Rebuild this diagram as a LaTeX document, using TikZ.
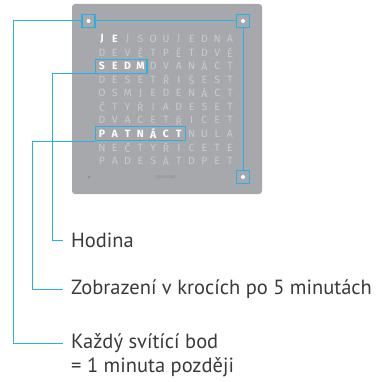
\documentclass[tikz,border=0pt]{standalone}
\usepackage{fontspec}
\setmainfont{PT Sans}
\newfontfamily\gridfont{Fira Sans}
\usepackage{tikz}
\usetikzlibrary{calc, fit, positioning}
\definecolor{panelgrey}{HTML}{A7A8AB}
\definecolor{lettergrey}{HTML}{C9CACC}
\definecolor{brandgrey}{HTML}{85868A}
\definecolor{cyanline}{HTML}{29B0E6}
\definecolor{desctext}{HTML}{3A3A3A}
\tikzset{
    panel/.style={
        fill=panelgrey,
        rounded corners=3pt,
        minimum width=190pt,
        minimum height=190pt
    },
    letter/.style={
        inner sep=0pt,
        minimum width=12.8pt,
        minimum height=13.55pt,
        text=lettergrey,
        font=\gridfont\fontsize{10.5}{10.5}\selectfont
    },
    lit/.style={
        letter,
        text=white,
        font=\gridfont\bfseries\fontsize{10.5}{10.5}\selectfont
    },
    hlbox/.style={draw=cyanline, line width=1.1pt, inner sep=0pt},
    dotbox/.style={
        draw=cyanline, line width=1.1pt,
        minimum size=13pt, inner sep=0pt,
        path picture={
            \fill[white] (path picture bounding box.center) circle (2pt);}
    },
    conn/.style={
        cyanline,
        line width=1pt,
        shorten >=8pt
    },
    desc/.style={
        anchor=west, inner sep=0pt,
        text=desctext,
        font=\fontsize{20.5}{24}\selectfont
    },
}

\begin{document}
\begin{tikzpicture}[x=1pt, y=-1pt]
    \useasboundingbox (0,0) rectangle (385,382);

    % Draw clock face
    \node[panel] (clock) at (167,99) {};
    \foreach \row [count=\r] in {
        {J,E,J,S,O,U,J,E,D,N,A},
        {D,E,V,Ě,T,P,Ě,T,D,V,Ě},
        {S,E,D,M,D,V,A,N,Á,C,T},
        {D,E,S,E,T,Ř,I,Š,E,S,T},
        {O,S,M,J,E,D,E,N,Á,C,T},
        {Č,T,Y,Ř,I,A,D,E,S,E,T},
        {D,V,A,C,E,T,Ř,I,C,E,T},
        {P,A,T,N,Á,C,T,N,U,L,A},
        {N,E,Č,T,Y,Ř,I,C,E,T,E},
        {P,A,D,E,S,Á,T,D,P,E,T}} {
        \pgfmathtruncatemacro\lit{{2,0,4,0,0,0,0,7,0,0}[\r-1]}
        \foreach \ch [count=\c] in \row {
            \ifnum\c>\lit
                \node[letter] (L-\r-\c) at ({102+12.8*(\c-1)}, {39+13.55*(\r-1)}) {\ch};
            \else
                \node[lit] (L-\r-\c) at ({102+12.8*(\c-1)}, {39+13.55*(\r-1)}) {\ch};
            \fi
        }
    }
    \node[circle, fill=brandgrey, inner sep=0pt, minimum size=2.2pt] (sensor) at (89,177) {};
    \node[text=brandgrey, font=\gridfont\fontsize{4}{4}\selectfont] (brand) at (166,177) {QLOCKTWO};

    % Highlighted words and minute dots
    \node[hlbox, fit=(L-3-1)(L-3-4)] (sedm) {};
    \node[hlbox, fit=(L-8-1)(L-8-7)] (patnact) {};
    \node[dotbox] (tl) at (88.5,21) {};
    \node[dotbox] (tr) at (243,21) {};
    \node[dotbox] (br) at (243,177) {};

    % Descriptions
    \node[desc] (hodina) at (71,240) {Hodina};
    \node[desc] (zobrazeni) at (71,289) {Zobrazení v krocích po 5 minutách};
    \node[desc] (kazdy) at (71,343) {Každý svítící bod};
    \node[desc] (pozdeji) at ($(kazdy.west)+(0,24)$) {= 1 minuta později};

    \draw[conn] (sedm.south west) -- ++(-42.6,0) |- (hodina.west);
    \draw[conn] (patnact.south west) -- ++(-62,0) |- (zobrazeni.west);
    \draw[conn] (tl.west) -- ++(-68,0) |- (kazdy.west);
    \draw[conn, shorten >=0pt] (tl) -- (tr);
    \draw[conn, shorten >=0pt] (tr) -- (br);

\end{tikzpicture}
\end{document}
